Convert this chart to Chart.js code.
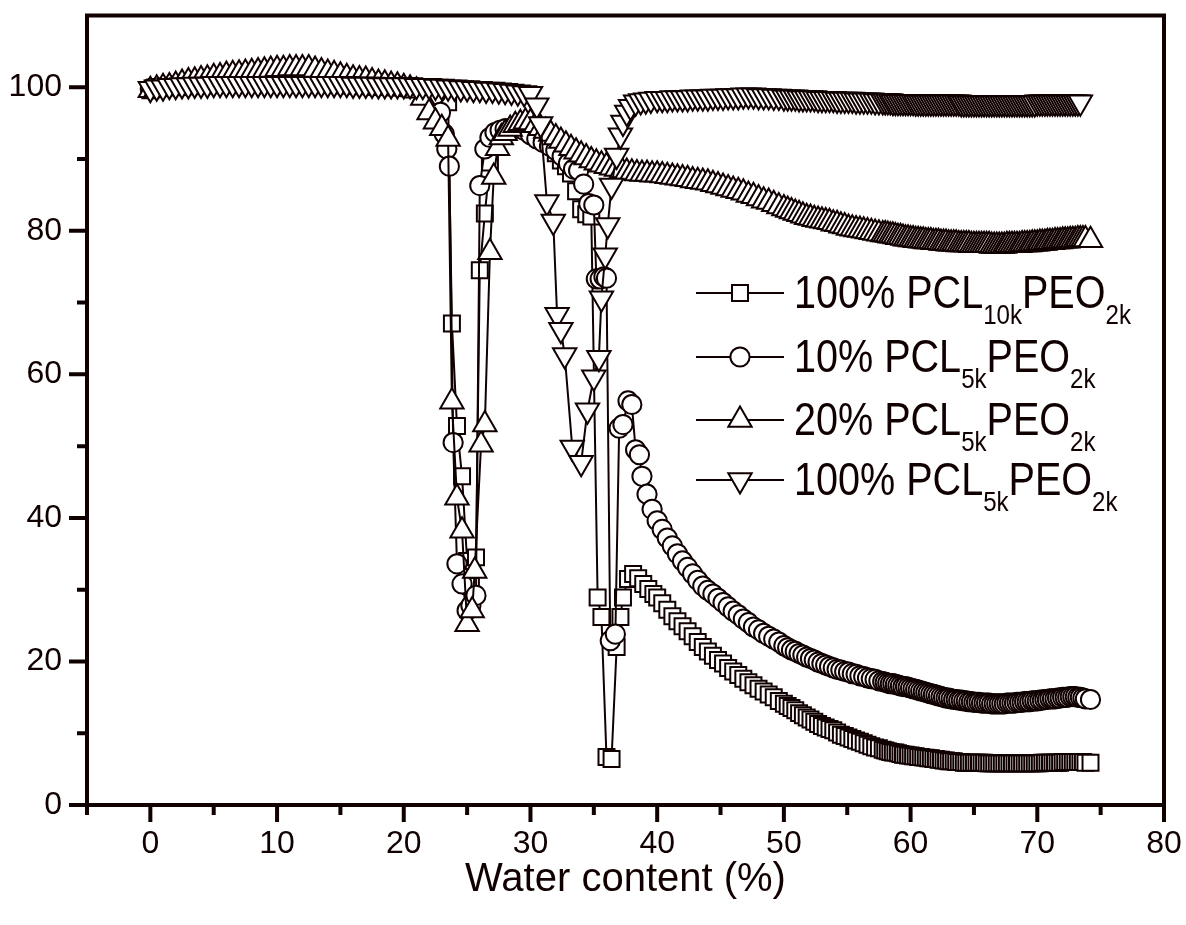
<!DOCTYPE html>
<html>
<head>
<meta charset="utf-8">
<title>Water content</title>
<script src="https://cdn.jsdelivr.net/npm/chart.js@4.4.0/dist/chart.umd.min.js"></script>
<style>
  html, body { margin: 0; padding: 0; background: #fff; }
  #wrap { width: 1186px; height: 925px; }
  canvas { display: block; }
</style>
</head>
<body>
<div id="wrap"><canvas id="chart" width="1186" height="925"></canvas></div>
<script>
const xTicks = [0, 10, 20, 30, 40, 50, 60, 70, 80];
const xMinorTicks = [-5, 5, 15, 25, 35, 45, 55, 65, 75];
const yTicks = [0, 20, 40, 60, 80, 100];
const yMinorTicks = [10, 30, 50, 70, 90];

const seriesNames = [
    ['100% PCL', '10k', 'PEO', '2k'],
    ['10% PCL', '5k', 'PEO', '2k'],
    ['20% PCL', '5k', 'PEO', '2k'],
    ['100% PCL', '5k', 'PEO', '2k']
];

// water content of the flat start, shared by all four runs
const plateauX = [
    0, 0.5, 1, 1.5, 2, 2.5, 3, 3.5, 4, 4.5,
    5, 5.5, 6, 6.5, 7, 7.5, 8, 8.5, 9, 9.5,
    10, 10.5, 11, 11.5, 12, 12.5, 13, 13.5, 14, 14.5,
    15, 15.5, 16, 16.5, 17, 17.5, 18, 18.5, 19, 19.5,
    20, 20.5, 21
];

// water content of the long tail, shared by all four runs
const tailX = [
    40, 40.4, 40.8, 41.2, 41.6, 42, 42.4, 42.8, 43.2, 43.6,
    44, 44.4, 44.8, 45.2, 45.6, 46, 46.4, 46.8, 47.2, 47.6,
    48, 48.4, 48.8, 49.2, 49.6,
    50, 50.3, 50.6, 50.9, 51.2, 51.5, 51.8, 52.1, 52.4, 52.7,
    53, 53.3, 53.6, 53.9, 54.2, 54.5, 54.8, 55.1, 55.4, 55.7,
    56, 56.3, 56.6, 56.9, 57.2, 57.5, 57.8,
    58, 58.2, 58.4, 58.6, 58.8, 59, 59.2, 59.4, 59.6, 59.8,
    60, 60.2, 60.4, 60.6, 60.8, 61, 61.2, 61.4, 61.6, 61.8,
    62, 62.2, 62.4, 62.6, 62.8, 63, 63.2, 63.4, 63.6, 63.8,
    64, 64.2, 64.4, 64.6, 64.8, 65, 65.2, 65.4, 65.6, 65.8,
    66, 66.2, 66.4, 66.6, 66.8, 67, 67.2, 67.4, 67.6, 67.8,
    68, 68.2, 68.4, 68.6, 68.8, 69, 69.2, 69.4, 69.6, 69.8,
    70, 70.2, 70.4, 70.6, 70.8, 71, 71.2, 71.4, 71.6, 71.8,
    72, 72.2, 72.4, 72.6, 72.8, 73, 73.2, 73.4, 73.6, 73.8,
    74.2
];

// 100% PCL10kPEO2k (squares)
const sqPlateau = [
    99.6, 99.8, 100.0, 100.1, 100.2, 100.3, 100.4, 100.4, 100.5, 100.5,
    100.6, 100.6, 100.7, 100.7, 100.8, 100.8, 100.9, 100.9, 101.0, 101.0,
    101.0, 101.0, 101.0, 101.0, 101.0, 100.9, 100.9, 100.8, 100.8, 100.7,
    100.6, 100.6, 100.5, 100.5, 100.4, 100.4, 100.3, 100.3, 100.2, 100.2,
    100.1, 100.1, 100.0
];
const sqMidX = [
    21.5, 22, 22.5, 22.8, 23.1, 23.5, 23.8, 24.2, 24.6, 25.0,
    25.3, 25.7, 26.0, 26.4, 26.8, 27.2, 27.6, 28.0, 28.5, 29.0,
    29.5, 30.0, 30.5, 31.0, 31.5, 32.0, 32.4, 32.8, 33.2, 33.6,
    34.0, 34.4, 34.8, 35.3, 35.6, 36.0, 36.4, 36.8, 37.1, 37.3,
    37.7, 38.1, 38.5, 38.9, 39.3, 39.7
];
const sqMidY = [
    100.0, 99.9, 99.8, 99.6, 99.2, 97.9, 67.1, 52.8, 45.8, 34.0,
    30.5, 34.5, 74.5, 82.4, 89.5, 92.5, 93.5, 94.0, 94.4, 94.6,
    94.6, 94.3, 93.9, 93.3, 92.3, 90.8, 89.8, 89.0, 88.0, 85.5,
    83.0, 82.3, 82.0, 28.9, 26.2, 6.7, 6.4, 22.0, 26.2, 28.9,
    31.5, 32.2, 31.6, 30.8, 30.1, 29.4
];
const sqTail = [
    28.9, 28.1, 27.2, 26.3, 25.6, 24.9, 24.2, 23.5, 22.7, 22.0,
    21.4, 20.8, 20.2, 19.7, 19.1, 18.6, 18.1, 17.6, 17.1, 16.7,
    16.2, 15.8, 15.4, 15.0, 14.5,
    14.1, 13.8, 13.5, 13.2, 12.8, 12.5, 12.2, 11.9, 11.6, 11.3,
    11.0, 10.8, 10.6, 10.4, 10.1, 9.8, 9.6, 9.4, 9.2, 9.0,
    8.8, 8.6, 8.4, 8.2, 8.0, 7.9, 7.7,
    7.6, 7.5, 7.4, 7.3, 7.3, 7.2, 7.1, 7.0, 7.0, 6.9,
    6.9, 6.8, 6.8, 6.7, 6.7, 6.6, 6.6, 6.5, 6.5, 6.4,
    6.4, 6.3, 6.3, 6.2, 6.2, 6.1, 6.1, 6.1, 6.0, 6.0,
    6.0, 5.9, 5.9, 5.9, 5.9, 5.9, 5.9, 5.9, 5.9, 5.9,
    5.8, 5.8, 5.8, 5.8, 5.8, 5.8, 5.8, 5.8, 5.8, 5.8,
    5.8, 5.8, 5.8, 5.8, 5.8, 5.8, 5.8, 5.8, 5.8, 5.8,
    5.8, 5.8, 5.9, 5.9, 5.9, 5.9, 5.9, 5.9, 5.9, 5.9,
    6.0, 6.0, 6.0, 6.0, 6.0, 6.0, 6.0, 6.0, 6.0, 5.9,
    5.9
];

// 10% PCL5kPEO2k (circles)
const ciPlateau = [
    99.8, 99.9, 100.0, 100.1, 100.2, 100.2, 100.3, 100.3, 100.4, 100.4,
    100.5, 100.5, 100.5, 100.6, 100.6, 100.6, 100.7, 100.7, 100.7, 100.7,
    100.7, 100.7, 100.7, 100.7, 100.6, 100.6, 100.6, 100.5, 100.5, 100.5,
    100.4, 100.4, 100.3, 100.3, 100.3, 100.2, 100.2, 100.2, 100.1, 100.1,
    100.0, 100.0, 99.9
];
const ciMidX = [
    21.5, 22, 22.5, 22.9, 23.2, 23.4, 23.6, 23.9, 24.2, 24.6,
    25.0, 25.3, 25.7, 26.0, 26.4, 26.8, 27.2, 27.6, 28.0, 28.5,
    29.0, 29.5, 30.0, 30.5, 31.0, 31.5, 32.0, 32.5, 33.0, 33.4,
    33.8, 34.2, 34.6, 35.0, 35.2, 35.5, 35.8, 36.0, 36.3, 36.7,
    37.0, 37.3, 37.7, 38.0, 38.3, 38.6, 38.8, 39.2, 39.6
];
const ciMidY = [
    99.8, 99.6, 99.0, 96.5, 93.5, 91.4, 89.0, 50.5, 33.6, 30.8,
    27.1, 27.8, 29.2, 86.3, 91.4, 93.0, 93.7, 94.0, 94.2, 94.3,
    94.3, 94.0, 93.4, 92.8, 92.3, 91.8, 91.2, 90.4, 89.4, 88.6,
    88.4, 86.5, 83.8, 83.6, 73.3, 73.3, 73.6, 73.4, 22.9, 23.8,
    52.5, 53.0, 56.3, 55.8, 49.5, 48.8, 45.8, 43.3, 41.2
];
const ciTail = [
    39.6, 38.4, 37.2, 36.1, 35.0, 34.0, 33.1, 32.2, 31.3, 30.5,
    29.9, 29.4, 28.8, 28.2, 27.6, 27.0, 26.5, 25.9, 25.4, 24.8,
    24.4, 23.9, 23.5, 23.1, 22.7,
    22.2, 21.9, 21.6, 21.4, 21.1, 20.9, 20.6, 20.4, 20.2, 19.9,
    19.7, 19.5, 19.3, 19.1, 18.9, 18.8, 18.6, 18.5, 18.3, 18.2,
    18.0, 17.9, 17.7, 17.6, 17.5, 17.3, 17.2,
    17.1, 17.0, 16.9, 16.9, 16.8, 16.7, 16.6, 16.5, 16.5, 16.4,
    16.3, 16.2, 16.1, 16.0, 15.9, 15.8, 15.7, 15.6, 15.5, 15.4,
    15.3, 15.2, 15.1, 15.0, 14.9, 14.9, 14.8, 14.7, 14.7, 14.6,
    14.6, 14.5, 14.5, 14.4, 14.4, 14.3, 14.3, 14.3, 14.2, 14.2,
    14.2, 14.2, 14.1, 14.1, 14.1, 14.1, 14.1, 14.1, 14.2, 14.2,
    14.2, 14.2, 14.3, 14.3, 14.3, 14.4, 14.4, 14.4, 14.5, 14.5,
    14.5, 14.6, 14.6, 14.7, 14.7, 14.8, 14.8, 14.8, 14.9, 14.9,
    15.0, 15.0, 15.0, 15.1, 15.1, 15.1, 15.0, 15.0, 14.9, 14.8,
    14.7
];

// 20% PCL5kPEO2k (up triangles)
const upPlateau = [
    99.6, 99.8, 100.0, 100.1, 100.3, 100.6, 100.8, 100.9, 101.1, 101.2,
    101.4, 101.5, 101.7, 101.8, 101.9, 102.0, 102.1, 102.2, 102.3, 102.4,
    102.5, 102.5, 102.6, 102.6, 102.6, 102.6, 102.4, 102.2, 102.0, 101.8,
    101.6, 101.4, 101.2, 101.1, 101.0, 100.8, 100.6, 100.5, 100.3, 100.2,
    100.0, 99.8, 99.5
];
const upMidX = [
    21.5, 22.0, 22.5, 23.0, 23.5, 23.8, 24.2, 24.6, 25.0, 25.4,
    25.6, 26.1, 26.4, 26.8, 27.1, 27.4, 27.7, 28.0, 28.4, 28.8,
    29.2, 29.6, 30.0, 30.4, 30.8, 31.2, 31.6, 32.0, 32.4, 32.8,
    33.2, 33.6, 34.0, 34.4, 34.8, 35.2, 35.6, 36.0, 36.4, 36.8,
    37.2, 37.6, 38.0, 38.4, 38.8, 39.2, 39.6
];
const upMidY = [
    98.5, 96.5, 95.2, 94.3, 92.8, 56.2, 42.8, 38.2, 25.2, 27.1,
    32.6, 50.2, 53.0, 77.0, 87.5, 91.5, 93.0, 93.6, 94.2, 94.7,
    95.0, 95.2, 95.1, 94.7, 94.3, 93.9, 93.5, 93.0, 92.5, 92.0,
    91.5, 91.0, 90.6, 90.2, 89.8, 89.5, 89.2, 89.0, 88.8, 88.6,
    88.4, 88.2, 88.1, 88.0, 87.9, 87.9, 87.8
];
const upTail = [
    87.8, 87.7, 87.6, 87.5, 87.4, 87.3, 87.2, 87.0, 86.9, 86.8,
    86.7, 86.5, 86.3, 86.1, 85.9, 85.7, 85.5, 85.3, 85.0, 84.8,
    84.5, 84.2, 84.0, 83.7, 83.4,
    83.1, 82.9, 82.7, 82.5, 82.3, 82.1, 81.9, 81.8, 81.6, 81.5,
    81.4, 81.3, 81.2, 81.0, 80.9, 80.7, 80.6, 80.4, 80.3, 80.2,
    80.1, 80.0, 79.9, 79.8, 79.7, 79.6, 79.5,
    79.5, 79.4, 79.3, 79.3, 79.2, 79.1, 79.1, 79.0, 78.9, 78.9,
    78.8, 78.8, 78.7, 78.7, 78.6, 78.6, 78.5, 78.5, 78.5, 78.4,
    78.4, 78.4, 78.3, 78.3, 78.3, 78.2, 78.2, 78.2, 78.2, 78.1,
    78.1, 78.1, 78.1, 78.1, 78.0, 78.0, 78.0, 78.0, 78.0, 78.0,
    78.0, 78.0, 77.9, 77.9, 77.9, 77.9, 77.9, 77.9, 78.0, 78.0,
    78.0, 78.0, 78.0, 78.0, 78.1, 78.1, 78.1, 78.1, 78.2, 78.2,
    78.2, 78.3, 78.3, 78.3, 78.4, 78.4, 78.4, 78.5, 78.5, 78.5,
    78.6, 78.6, 78.6, 78.7, 78.7, 78.7, 78.8, 78.8, 78.8, 78.8,
    78.7
];

// 100% PCL5kPEO2k (down triangles)
const dnPlateau = [
    99.8, 100.0, 100.0, 100.2, 100.2, 100.3, 100.3, 100.4, 100.4, 100.4,
    100.5, 100.5, 100.5, 100.5, 100.5, 100.5, 100.5, 100.5, 100.5, 100.5,
    100.5, 100.5, 100.5, 100.5, 100.5, 100.5, 100.5, 100.5, 100.5, 100.5,
    100.5, 100.5, 100.4, 100.4, 100.4, 100.4, 100.3, 100.3, 100.3, 100.3,
    100.3, 100.3, 100.2
];
const dnMidX = [
    21.5, 22.0, 22.5, 23.0, 23.5, 24.0, 24.5, 25.0, 25.5, 26.0,
    26.5, 27.0, 27.5, 28.0, 28.5, 29.0, 29.5, 30.0, 30.5, 30.8,
    31.3, 31.8, 32.1, 32.4, 32.7, 33.3, 34.0, 34.5, 35.0, 35.4,
    35.6, 35.9, 36.1, 36.4, 36.8, 37.1, 37.3, 37.6, 37.9, 38.3,
    38.7, 39.1, 39.5
];
const dnMidY = [
    100.2, 100.2, 100.1, 100.1, 100.0, 100.0, 99.9, 99.9, 99.8, 99.8,
    99.7, 99.7, 99.6, 99.5, 99.4, 99.3, 99.2, 99.1, 97.5, 94.9,
    84.0, 81.3, 68.3, 66.2, 62.7, 49.8, 47.7, 55.0, 59.6, 62.3,
    70.6, 76.6, 80.8, 86.3, 90.5, 93.3, 95.1, 96.5, 97.3, 97.9,
    98.1, 98.2, 98.3
];
const dnTail = [
    98.4, 98.4, 98.4, 98.5, 98.5, 98.5, 98.5, 98.6, 98.6, 98.6,
    98.6, 98.7, 98.7, 98.7, 98.8, 98.8, 98.8, 98.9, 98.9, 98.9,
    98.8, 98.8, 98.8, 98.7, 98.7,
    98.6, 98.6, 98.6, 98.6, 98.5, 98.5, 98.5, 98.5, 98.5, 98.4,
    98.4, 98.4, 98.4, 98.4, 98.3, 98.3, 98.3, 98.3, 98.3, 98.2,
    98.2, 98.2, 98.2, 98.2, 98.1, 98.1, 98.1,
    98.1, 98.1, 98.1, 98.0, 98.0, 98.0, 98.0, 98.0, 98.0, 98.0,
    98.0, 98.0, 97.9, 97.9, 97.9, 97.9, 97.9, 97.9, 97.9, 97.9,
    97.9, 97.9, 97.9, 97.9, 97.9, 97.9, 97.9, 97.9, 97.9, 97.9,
    97.8, 97.8, 97.8, 97.8, 97.8, 97.8, 97.8, 97.8, 97.8, 97.8,
    97.8, 97.8, 97.8, 97.8, 97.8, 97.8, 97.8, 97.8, 97.8, 97.8,
    97.8, 97.8, 97.8, 97.8, 97.8, 97.8, 97.8, 97.8, 97.8, 97.8,
    97.9, 97.9, 97.9, 97.9, 97.9, 97.9, 97.9, 97.9, 97.9, 97.9,
    97.9, 97.9, 97.9, 97.9, 97.9, 97.9, 97.9, 97.9
];

const ink = '#100000';
const fontFamily = '"Liberation Sans", Arial, Helvetica, sans-serif';

function points(xs, ys) {
    return ys.map((y, i) => ({ x: xs[i], y: y }));
}

function run(plateau, midX, midY, tail) {
    return points(plateauX, plateau).concat(points(midX, midY), points(tailX, tail));
}

const markers = [
    { pointStyle: 'rect', radius: 11.3, rotation: 0 },
    { pointStyle: 'circle', radius: 9.6, rotation: 0 },
    { pointStyle: 'triangle', radius: 13.5, rotation: 0 },
    { pointStyle: 'triangle', radius: 13.5, rotation: 180 }
];

const runs = [
    run(sqPlateau, sqMidX, sqMidY, sqTail),
    run(ciPlateau, ciMidX, ciMidY, ciTail),
    run(upPlateau, upMidX, upMidY, upTail),
    run(dnPlateau, dnMidX, dnMidY, dnTail)
];

const datasets = runs.map((data, i) => ({
    label: seriesNames[i].join(''),
    data: data,
    showLine: true,
    borderColor: ink,
    borderWidth: 2,
    backgroundColor: '#fff',
    pointStyle: markers[i].pointStyle,
    pointRadius: markers[i].radius,
    pointRotation: markers[i].rotation,
    pointBackgroundColor: '#fff',
    pointBorderColor: ink,
    pointBorderWidth: 2,
    order: 4 - i
}));

// keep the plot box where the reference has it
function noEdgePadding(scale) {
    scale.paddingTop = 0;
    scale.paddingBottom = 0;
    scale.paddingLeft = 0;
    scale.paddingRight = 0;
}

// frame plus outward major / minor ticks
const frameTicks = {
    id: 'frameTicks',
    afterDatasetsDraw(chart) {
        const { ctx, chartArea: a } = chart;
        const sx = chart.scales.x;
        const sy = chart.scales.y;
        ctx.save();
        ctx.strokeStyle = ink;
        ctx.lineWidth = 4;
        ctx.strokeRect(a.left, a.top, a.right - a.left, a.bottom - a.top);
        ctx.beginPath();
        xTicks.forEach(v => {
            const px = sx.getPixelForValue(v);
            ctx.moveTo(px, a.bottom);
            ctx.lineTo(px, a.bottom + 17);
        });
        xMinorTicks.forEach(v => {
            const px = sx.getPixelForValue(v);
            ctx.moveTo(px, a.bottom);
            ctx.lineTo(px, a.bottom + 10);
        });
        yTicks.forEach(v => {
            const py = sy.getPixelForValue(v);
            ctx.moveTo(a.left, py);
            ctx.lineTo(a.left - 18, py);
        });
        yMinorTicks.forEach(v => {
            const py = sy.getPixelForValue(v);
            ctx.moveTo(a.left, py);
            ctx.lineTo(a.left - 10, py);
        });
        ctx.stroke();
        ctx.restore();
    }
};

// legend with subscripts, drawn by hand
const legendRowsY = [293, 357, 420, 480];
const subLegend = {
    id: 'subLegend',
    afterDraw(chart) {
        const ctx = chart.ctx;
        ctx.save();
        seriesNames.forEach((parts, i) => {
            const cy = legendRowsY[i];
            ctx.strokeStyle = ink;
            ctx.lineWidth = 2;
            ctx.beginPath();
            ctx.moveTo(696, cy);
            ctx.lineTo(784, cy);
            ctx.stroke();

            ctx.fillStyle = '#fff';
            Chart.helpers.drawPoint(ctx, {
                pointStyle: markers[i].pointStyle,
                radius: markers[i].radius,
                rotation: markers[i].rotation,
                borderWidth: 2
            }, 740, cy);

            ctx.save();
            ctx.translate(794, cy + 15);
            ctx.scale(0.86, 1);
            ctx.fillStyle = ink;
            ctx.textAlign = 'left';
            ctx.textBaseline = 'alphabetic';
            let cx = 0;
            parts.forEach((txt, k) => {
                const sub = k % 2 === 1;
                ctx.font = (sub ? '28px ' : '46px ') + fontFamily;
                ctx.fillText(txt, cx, sub ? 16 : 0);
                cx += ctx.measureText(txt).width;
            });
            ctx.restore();
        });
        ctx.restore();
    }
};

new Chart(document.getElementById('chart'), {
    type: 'scatter',
    data: { datasets: datasets },
    options: {
        responsive: false,
        animation: false,
        events: [],
        layout: { padding: { left: 0, right: 22, top: 15, bottom: 0 } },
        plugins: {
            legend: { display: false },
            tooltip: { enabled: false }
        },
        scales: {
            x: {
                type: 'linear',
                min: -5,
                max: 80,
                grid: { display: false, drawTicks: false },
                border: { display: false },
                afterBuildTicks: scale => { scale.ticks = xTicks.map(v => ({ value: v })); },
                afterFit: scale => { scale.height = 120; noEdgePadding(scale); },
                ticks: {
                    autoSkip: false,
                    maxRotation: 0,
                    padding: 20,
                    color: ink,
                    font: { family: fontFamily, size: 32 },
                    callback: v => String(v)
                },
                title: {
                    display: true,
                    text: 'Water content (%)',
                    color: ink,
                    font: { family: fontFamily, size: 40 },
                    padding: { top: 0, bottom: 21 }
                }
            },
            y: {
                type: 'linear',
                min: 0,
                max: 110,
                grid: { display: false, drawTicks: false },
                border: { display: false },
                afterBuildTicks: scale => { scale.ticks = yTicks.map(v => ({ value: v })); },
                afterFit: scale => { scale.width = 87; noEdgePadding(scale); },
                ticks: {
                    autoSkip: false,
                    padding: 25,
                    color: ink,
                    font: { family: fontFamily, size: 32 },
                    callback: v => String(v)
                }
            }
        }
    },
    plugins: [frameTicks, subLegend]
});
</script>
</body>
</html>
